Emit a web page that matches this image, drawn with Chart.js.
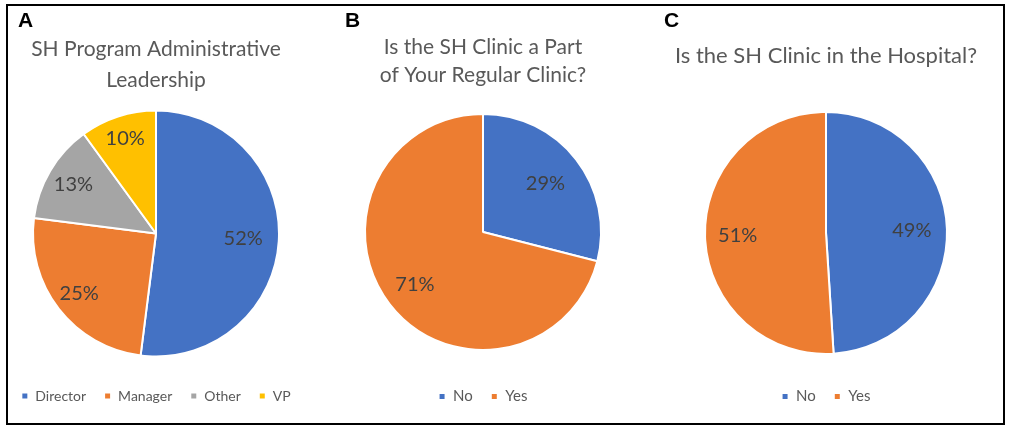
<!DOCTYPE html>
<html>
<head>
<meta charset="utf-8">
<script src="https://cdn.jsdelivr.net/npm/chart.js@4.4.0/dist/chart.umd.min.js"></script>
<style>
  body { margin: 0; background: #fff; }
  #wrap { position: relative; width: 1010px; height: 434px; overflow: hidden; }
  #frame { position: absolute; left: 6px; top: 4px; width: 995px; height: 417px; border: 2px solid #000; pointer-events: none; z-index: 2; }
  canvas { position: absolute; }
  .tag { position: absolute; font: bold 21px "Liberation Sans", Arial, sans-serif; color: #000; z-index: 3; }
</style>
</head>
<body>
<div id="wrap">
  <div id="frame"></div>
  <div class="tag" style="left:18px;top:8px">A</div>
  <div class="tag" style="left:345px;top:8px">B</div>
  <div class="tag" style="left:664px;top:8px">C</div>
  <canvas id="chartA" width="344" height="412" style="left:-16px;top:8px"></canvas>
  <canvas id="chartB" width="310" height="412" style="left:328px;top:8px"></canvas>
  <canvas id="chartC" width="336" height="412" style="left:658px;top:8px"></canvas>
</div>
<script>
// datos
const liderazgoLabels = ["Director", "Manager", "Other", "VP"];
const liderazgoValores = [52, 25, 13, 10];

const parteLabels = ["No", "Yes"];
const parteValores = [29, 71];

const hospitalLabels = ["No", "Yes"];
const hospitalValores = [49, 51];

const colores = ["#4472C4", "#ED7D31", "#A5A5A5", "#FFC000"];

// etiquetas de porcentaje dentro de cada porción
const etiquetasPct = {
    id: "etiquetasPct",
    afterDatasetsDraw(chart, args, opts) {
        const ctx = chart.ctx;
        const meta = chart.getDatasetMeta(0);
        const valores = chart.data.datasets[0].data;
        ctx.save();
        ctx.font = "20px Lato";
        ctx.fillStyle = "#404040";
        ctx.textAlign = "center";
        ctx.textBaseline = "middle";
        meta.data.forEach((arc, i) => {
            const p = arc.getProps(["x", "y", "startAngle", "endAngle", "outerRadius"], true);
            const ang = (p.startAngle + p.endAngle) / 2;
            const r = p.outerRadius * opts.factores[i];
            ctx.fillText(valores[i] + "%", p.x + Math.cos(ang) * r, p.y + Math.sin(ang) * r);
        });
        ctx.restore();
    }
};

function crearPie(id, labels, valores, titulo, radio, tit, leyenda, factores) {
    const ctx = document.getElementById(id).getContext("2d");
    return new Chart(ctx, {
        type: "pie",
        data: {
            labels: labels,
            datasets: [{
                data: valores,
                backgroundColor: colores.slice(0, valores.length),
                borderColor: "#ffffff",
                borderWidth: 2,
                radius: radio
            }]
        },
        options: {
            responsive: false,
            animation: false,
            layout: { padding: { bottom: leyenda.bottom } },
            plugins: {
                title: {
                    display: true,
                    text: titulo,
                    color: "#595959",
                    font: { family: "Lato", size: tit.size, weight: "normal", lineHeight: tit.lh },
                    padding: { top: tit.top, bottom: tit.bottom }
                },
                legend: {
                    position: "bottom",
                    labels: {
                        color: "#595959",
                        font: { family: "Lato", size: leyenda.size },
                        boxWidth: 7,
                        boxHeight: 7,
                        padding: leyenda.pad
                    }
                },
                tooltip: { enabled: false },
                etiquetasPct: { factores: factores }
            }
        },
        plugins: [etiquetasPct]
    });
}

crearPie("chartA", liderazgoLabels, liderazgoValores,
    ["SH Program Administrative", "Leadership"], 123,
    { size: 21, lh: 1.5, top: 25, bottom: 0 },
    { size: 14, pad: 18, bottom: 7 }, [0.71, 0.79, 0.78, 0.81]);

crearPie("chartB", parteLabels, parteValores,
    ["Is the SH Clinic a Part", "of Your Regular Clinic?"], 118,
    { size: 21, lh: 1.33, top: 25, bottom: 4 },
    { size: 15, pad: 18, bottom: 6 }, [0.67, 0.73]);

crearPie("chartC", hospitalLabels, hospitalValores,
    "Is the SH Clinic in the Hospital?", 121,
    { size: 22, lh: 1.4, top: 33, bottom: 23 },
    { size: 15, pad: 18, bottom: 6 }, [0.71, 0.73]);
</script>
</body>
</html>
